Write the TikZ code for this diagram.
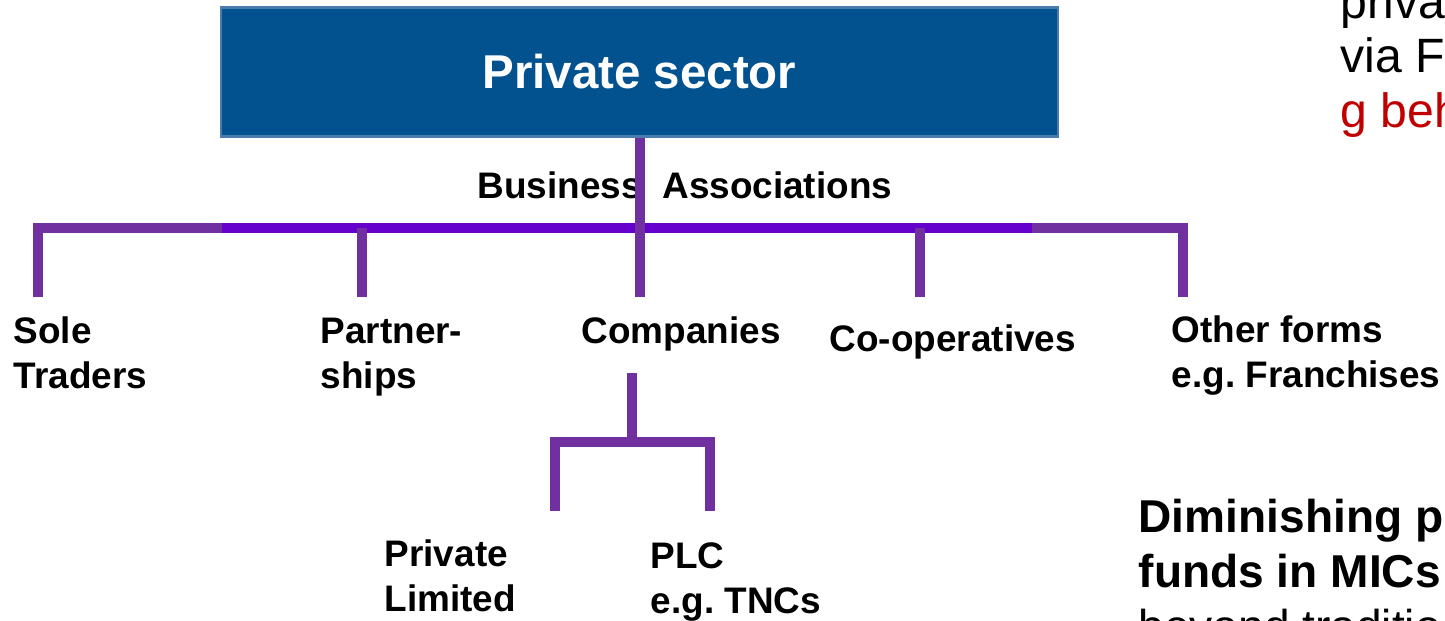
\documentclass[tikz,border=0pt]{standalone}
\usepackage{fontspec}
\setmainfont{Liberation Sans}
\frenchspacing
\definecolor{boxblue}{HTML}{02528F}
\definecolor{boxedge}{HTML}{4A7DAE}
\definecolor{treepurple}{HTML}{7030A0}
\definecolor{treeviolet}{HTML}{6600CC}
\definecolor{noteRed}{HTML}{C00000}
\begin{document}
\begin{tikzpicture}[x=0.01cm,y=-0.01cm,
  lbl/.style={font=\fontsize{10.5}{12.8}\selectfont\bfseries, anchor=base west,
              inner sep=0pt, align=left},
  branch/.style={line width=2.85pt, draw=treepurple},
  trunk/.style={line width=2.85pt, draw=treeviolet},
  note/.style={anchor=base west, inner sep=0pt, align=left}]
\useasboundingbox (0,0) rectangle (1445,620);
\clip (0,0) rectangle (1445,620);

% head box
\node (ps) [draw=boxedge, fill=boxblue, line width=0.6pt,
            minimum width=8.37cm, minimum height=1.29cm, inner sep=0pt,
            text=white, font=\fontsize{13.5}{16}\selectfont\bfseries]
            at (639.5,72) {Private sector};

% caption under the box
\node (ba) [lbl] at (477,198) {Business\ \ Associations};

% joints of the main bar
\coordinate (bL) at (33,228);
\coordinate (bLm) at (222,228);
\coordinate (bRm) at (1032,228);
\coordinate (bR) at (1188,228);
\coordinate (j1) at (38,228);
\coordinate (j2) at (362,228);
\coordinate (j3) at (640,228);
\coordinate (j4) at (920,228);
\coordinate (j5) at (1183,228);
\coordinate (e1) at (38,297);
\coordinate (e2) at (362,297);
\coordinate (e3) at (640,297);
\coordinate (e4) at (920,297);
\coordinate (e5) at (1183,297);

% main bar
\draw[branch] (bL) -- (bLm);
\draw[trunk] (bLm) -- (bRm);
\draw[branch] (bRm) -- (bR);

% stem and drops
\draw[branch] (ps.south -| j3) -- (e3);
\foreach \i in {1,2,4,5} \draw[branch] (j\i) -- (e\i);

% business forms (anchored on the baseline of the last line)
\node (st) [lbl] at (13,388) {Sole\\Traders};
\node (pa) [lbl] at (320,388) {Partner-\\ships};
\node (co) [lbl] at (581,343) {Companies};
\node (cp) [lbl] at (829,351) {Co-operatives};
\node (ot) [lbl] at (1171,387) {Other forms\\e.g. Franchises};

% companies sub-tree
\coordinate (cTop) at (632,373);
\coordinate (cJ) at (632,442);
\coordinate (cL) at (550,442);
\coordinate (cR) at (715,442);
\coordinate (dL) at (555,437);
\coordinate (dR) at (710,437);
\coordinate (fL) at (555,511);
\coordinate (fR) at (710,511);
\draw[branch] (cTop) -- (cJ);
\draw[branch] (cL) -- (cR);
\draw[branch] (dL) -- (fL);
\draw[branch] (dR) -- (fR);

\node (pl) [lbl] at (384,611) {Private\\Limited};
\node (plc) [lbl] at (650,613) {PLC\\e.g. TNCs};

% side notes
\node (n1) [note, font=\fontsize{13.7}{15.4}\selectfont] at (1340,127)
  {priva\\via F\\\textcolor{noteRed}{g beh}};
\node (n2) [note, font=\fontsize{13.1}{15.6}\selectfont] at (1138,642)
  {\bfseries Diminishing p\\\bfseries funds in MICs\\beyond traditio};
\end{tikzpicture}
\end{document}
